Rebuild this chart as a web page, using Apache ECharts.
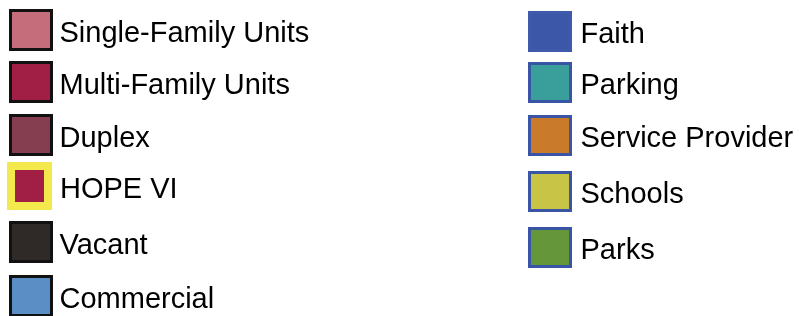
<!DOCTYPE html>
<html>
<head>
<meta charset="utf-8">
<script src="https://cdn.jsdelivr.net/npm/echarts@6/dist/echarts.min.js"></script>
<style>
html,body{margin:0;padding:0;background:#fff;}
#c{width:799px;height:316px;}
</style>
</head>
<body>
<div id="c"></div>
<script>
// Legend categories (two columns)
const leftCategories = ['Single-Family Units', 'Multi-Family Units', 'Duplex', 'HOPE VI', 'Vacant', 'Commercial'];
const rightCategories = ['Faith', 'Parking', 'Service Provider', 'Schools', 'Parks'];
// Fill colours
const leftColors = ['#c66d7b', '#a11f45', '#843e50', '#a11f45', '#2f2a27', '#5a8ec4'];
const rightColors = ['#3c56a8', '#3a9f9b', '#c97a2a', '#c8c446', '#65963a'];

// ---- layout (styles / positions, kept apart from the data) ----
const leftX = 9, rightX = 528;
const leftTops = [9, 61, 114, 162, 221, 275];
const rightTops = [11, 62, 115, 171, 227];
const FONT = {fontFamily: 'Liberation Sans, Arial, sans-serif', fontSize: 29, color: '#000'};

const allCats = leftCategories.concat(rightCategories);
const allColors = leftColors.concat(rightColors);

const series = allCats.map((name, i) => ({
  name: name,
  type: 'bar',
  data: [],
  itemStyle: {color: allColors[i]}
}));

function textStyle(padLeft) {
  return Object.assign({
    rich: {t: Object.assign({padding: [7, 0, 0, padLeft]}, FONT)}
  }, FONT);
}

const legends = [];
leftCategories.forEach((name, i) => {
  const hope = name === 'HOPE VI';
  legends.push({
    orient: 'vertical', left: hope ? leftX - 2 : leftX, top: leftTops[i], padding: 0,
    itemWidth: hope ? 37 : 41, itemHeight: hope ? 40 : 39,
    selectedMode: false,
    formatter: '{t|{name}}',
    textStyle: textStyle(hope ? 7 : 3),
    data: [{
      name: name, icon: 'rect',
      itemStyle: {color: leftColors[i], borderColor: hope ? '#f4e94c' : '#111111', borderWidth: hope ? 8 : 3}
    }]
  });
});
rightCategories.forEach((name, i) => {
  const faith = name === 'Faith';
  legends.push({
    orient: 'vertical', left: rightX, top: rightTops[i], padding: 0,
    itemWidth: 41, itemHeight: 38,
    selectedMode: false,
    formatter: '{t|{name}}',
    textStyle: textStyle(5),
    data: [{
      name: name, icon: 'rect',
      itemStyle: {color: rightColors[i], borderColor: faith ? '#3f5aab' : '#3b55a6', borderWidth: 3}
    }]
  });
});

const chart = echarts.init(document.getElementById('c'), null, {renderer: 'canvas'});
chart.setOption({
  animation: false,
  backgroundColor: '#ffffff',
  xAxis: {show: false, type: 'category', data: []},
  yAxis: {show: false, type: 'value'},
  grid: {left: 0, right: 0, top: 0, bottom: 0},
  legend: legends,
  series: series
});
</script>
</body>
</html>
